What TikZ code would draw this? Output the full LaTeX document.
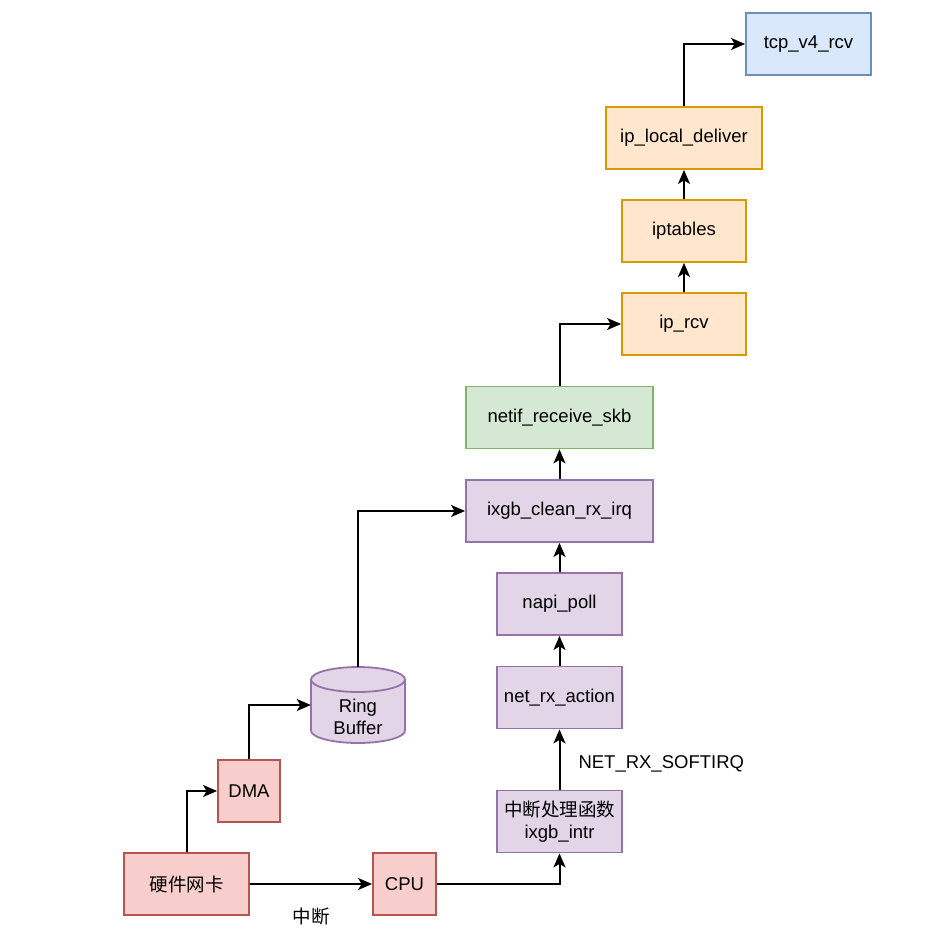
\documentclass[tikz,border=0pt]{standalone}
\usepackage{fontspec}
\setmainfont{Liberation Sans}
\newfontfamily\cjk{Noto Sans CJK SC}
\usetikzlibrary{arrows.meta}
\definecolor{redF}{HTML}{F8CECC}\definecolor{redD}{HTML}{B85450}
\definecolor{purF}{HTML}{E1D5E7}\definecolor{purD}{HTML}{9673A6}
\definecolor{grnF}{HTML}{D5E8D4}\definecolor{grnD}{HTML}{82B366}
\definecolor{orgF}{HTML}{FFE6CC}\definecolor{orgD}{HTML}{D79B00}
\definecolor{bluF}{HTML}{DAE8FC}\definecolor{bluD}{HTML}{6C8EBF}
\begin{document}
\begin{tikzpicture}[x=1pt,y=-1pt,
  every node/.style={font=\fontsize{18.5}{21.5}\selectfont, inner sep=0pt, align=center},
  box/.style={draw, line width=1.8pt, minimum height=62pt},
  redbox/.style={box, fill=redF, draw=redD},
  purbox/.style={box, fill=purF, draw=purD},
  grnbox/.style={box, fill=grnF, draw=grnD},
  orgbox/.style={box, fill=orgF, draw=orgD},
  blubox/.style={box, fill=bluF, draw=bluD},
  arr/.style={line width=2pt, -{Stealth[length=14pt,width=12pt,inset=3.5pt]}}]
\fill[white] (0,0) rectangle (938,932);
\useasboundingbox (0,0) rectangle (938,932);
% nodes
\node[redbox, minimum width=125pt] (nic) at (186.5,884) {\cjk 硬件网卡};
\node[redbox, minimum width=63pt] (cpu) at (404.5,884) {CPU};
\node[redbox, minimum width=62pt] (dma) at (249,791) {DMA};
% ring buffer cylinder
\filldraw[fill=purF, draw=purD, line width=1.8pt] (311,679.5) -- (311,730.5)
  arc[start angle=180, end angle=360, x radius=47pt, y radius=12.5pt] -- (405,679.5)
  arc[start angle=0, end angle=180, x radius=47pt, y radius=12.5pt] -- cycle;
\draw[purD, line width=1.8pt] (311,679.5) arc[start angle=180, end angle=360, x radius=47pt, y radius=12.5pt];
\node[minimum width=94pt, minimum height=76pt] (rb) at (358,705) {};
\node (rbtext) at (358,717) {Ring\\Buffer};
\node[purbox, minimum width=125pt] (intr) at (559.5,821.5) {{\cjk 中断处理函数}\\ixgb\_intr};
\node[purbox, minimum width=125pt] (rx) at (559.5,697.5) {net\_rx\_action};
\node[purbox, minimum width=125pt] (napi) at (559.5,604) {napi\_poll};
\node[purbox, minimum width=187pt] (clean) at (559.5,511) {ixgb\_clean\_rx\_irq};
\node[grnbox, minimum width=187pt] (netif) at (559.5,417.5) {netif\_receive\_skb};
\node[orgbox, minimum width=124pt] (iprcv) at (684,324) {ip\_rcv};
\node[orgbox, minimum width=124pt] (ipt) at (684,231) {iptables};
\node[orgbox, minimum width=156pt] (ipld) at (684,138) {ip\_local\_deliver};
\node[blubox, minimum width=125pt] (tcp) at (808.5,44) {tcp\_v4\_rcv};
% connectors
\draw[arr] (nic.north) |- (dma.west);
\draw[arr] (dma.north) |- (rb.west);
\draw[arr] (rb.north) |- (clean.west);
\draw[arr] (nic.east) -- node[midway, yshift=-32pt] (lint) {\cjk 中断} (cpu.west);
\draw[arr] (cpu.east) -| (intr.south);
\draw[arr] (intr.north) -- node[midway, anchor=west, xshift=18pt, yshift=-4pt] (lsoft) {NET\_RX\_SOFTIRQ} (rx.south);
\draw[arr] (rx.north) -- (napi.south);
\draw[arr] (napi.north) -- (clean.south);
\draw[arr] (clean.north) -- (netif.south);
\draw[arr] (netif.north) |- (iprcv.west);
\draw[arr] (iprcv.north) -- (ipt.south);
\draw[arr] (ipt.north) -- (ipld.south);
\draw[arr] (ipld.north) |- (tcp.west);
\end{tikzpicture}
\end{document}
